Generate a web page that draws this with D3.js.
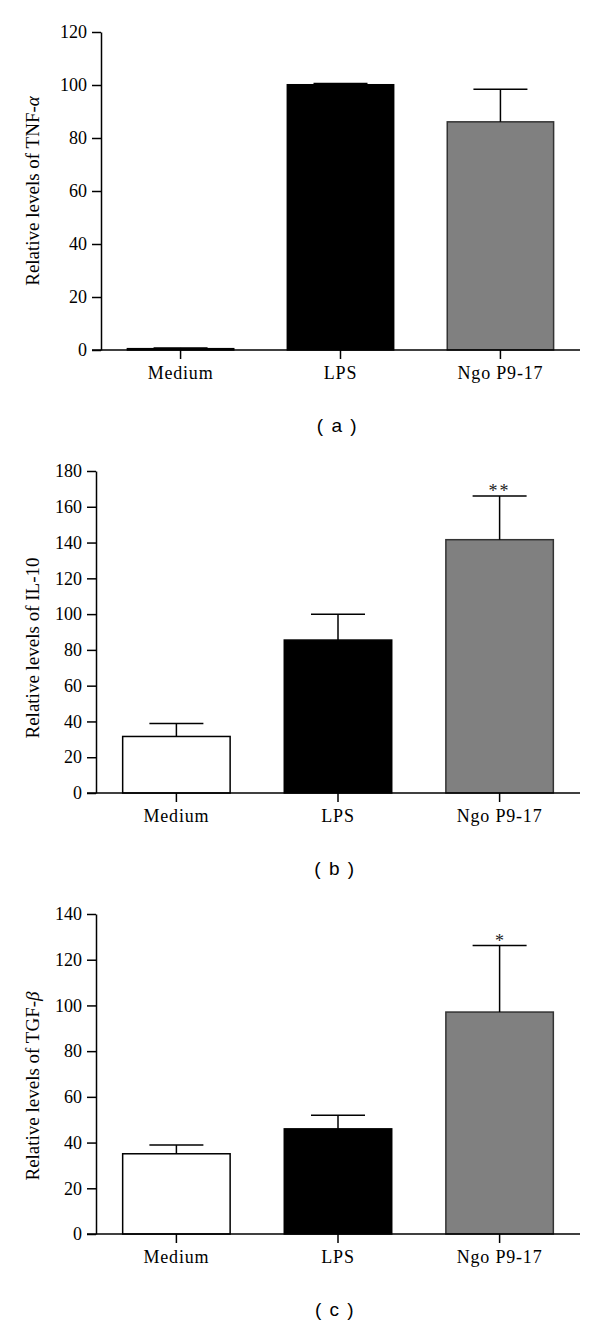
<!DOCTYPE html>
<html>
<head>
<meta charset="utf-8">
<script src="https://cdn.jsdelivr.net/npm/d3@7"></script>
<style>
  html, body { margin: 0; padding: 0; background: #fff; }
  svg { display: block; }
</style>
</head>
<body>
<svg id="chart" width="600" height="1324"></svg>
<script>
// ---------- data ----------
const categories = ["Medium", "LPS", "Ngo P9-17"];

const tnfValues = [0.5, 100.1, 86.1];
const tnfErrors = [0.3, 0.5, 12.3];
const tnfTicks = [0, 20, 40, 60, 80, 100, 120];
const tnfStars = ["", "", ""];

const il10Values = [31.6, 85.5, 141.6];
const il10Errors = [7.3, 14.4, 24.4];
const il10Ticks = [0, 20, 40, 60, 80, 100, 120, 140, 160, 180];
const il10Stars = ["", "", "**"];

const tgfValues = [35.1, 46.0, 97.1];
const tgfErrors = [3.8, 6.0, 29.1];
const tgfTicks = [0, 20, 40, 60, 80, 100, 120, 140];
const tgfStars = ["", "", "*"];

const titles = ["Relative levels of TNF-", "Relative levels of IL-10", "Relative levels of TGF-"];
const greek = ["α", "", "β"];
const captions = ["( a )", "( b )", "( c )"];

// ---------- layout ----------
const fills = ["#ffffff", "#000000", "#808080"];
const strokes = ["#000000", "#000000", "#333333"];

const panels = [
  { values: tnfValues, errors: tnfErrors, ticks: tnfTicks, stars: tnfStars,
    x0: 101, x1: 580, yTop: 32, yBottom: 350, titleY: 191, titleX: 32 },
  { values: il10Values, errors: il10Errors, ticks: il10Ticks, stars: il10Stars,
    x0: 96, x1: 580, yTop: 471, yBottom: 793, titleY: 648, titleX: 32 },
  { values: tgfValues, errors: tgfErrors, ticks: tgfTicks, stars: tgfStars,
    x0: 96, x1: 580, yTop: 914, yBottom: 1234, titleY: 1086, titleX: 32 }
];

const svg = d3.select("#chart");
const serif = "'Liberation Serif', 'Times New Roman', serif";
const sans = "'Liberation Sans', Arial, sans-serif";

panels.forEach((p, i) => {
  const g = svg.append("g");
  const x = d3.scaleBand().domain(categories).range([p.x0, p.x1])
    .paddingInner(0.335).paddingOuter(0.165);
  const y = d3.scaleLinear().domain([0, d3.max(p.ticks)]).range([p.yBottom, p.yTop]);

  // bars
  g.selectAll("rect.bar").data(categories).enter().append("rect")
    .attr("class", "bar")
    .attr("x", d => x(d))
    .attr("width", x.bandwidth())
    .attr("y", (d, j) => y(p.values[j]))
    .attr("height", (d, j) => y(0) - y(p.values[j]))
    .attr("fill", (d, j) => fills[j])
    .attr("stroke", (d, j) => strokes[j])
    .attr("stroke-width", 1.5);

  // error bars (upper only)
  const capHalf = 27;
  categories.forEach((c, j) => {
    const cx = x(c) + x.bandwidth() / 2;
    const yv = y(p.values[j]);
    const ye = y(p.values[j] + p.errors[j]);
    g.append("line").attr("x1", cx).attr("x2", cx).attr("y1", yv).attr("y2", ye)
      .attr("stroke", "#000").attr("stroke-width", 1.5);
    g.append("line").attr("x1", cx - capHalf).attr("x2", cx + capHalf).attr("y1", ye).attr("y2", ye)
      .attr("stroke", "#000").attr("stroke-width", 1.5);
    if (p.stars[j]) {
      g.append("text").attr("x", cx).attr("y", ye + 1)
        .attr("text-anchor", "middle")
        .attr("font-family", serif).attr("font-size", 18)
        .attr("letter-spacing", p.stars[j].length > 1 ? 2 : 0)
        .attr("fill", "#222")
        .text(p.stars[j]);
    }
  });

  // y axis
  const yAxis = d3.axisLeft(y).tickValues(p.ticks).tickSize(9).tickSizeOuter(0).tickPadding(5);
  const ya = g.append("g").attr("transform", `translate(${p.x0},0)`).call(yAxis);
  ya.select(".domain").attr("stroke", "#000").attr("stroke-width", 1.5);
  ya.selectAll(".tick line").attr("stroke", "#000").attr("stroke-width", 1.5);
  ya.selectAll(".tick text").attr("font-family", serif).attr("font-size", 18).attr("fill", "#000");

  // x axis
  const xAxis = d3.axisBottom(x).tickSize(9).tickSizeOuter(0).tickPadding(7);
  const xa = g.append("g").attr("transform", `translate(0,${p.yBottom})`).call(xAxis);
  xa.select(".domain").attr("stroke", "#000").attr("stroke-width", 1.5)
    .attr("d", `M${p.x0 - 9},0H${p.x1}`);
  xa.selectAll(".tick line").attr("stroke", "#000").attr("stroke-width", 1.5);
  xa.selectAll(".tick text").attr("font-family", serif).attr("font-size", 18)
    .attr("letter-spacing", 0.8).attr("fill", "#000");

  // y title
  const t = g.append("text")
    .attr("transform", `translate(${p.titleX},${p.titleY}) rotate(-90)`)
    .attr("text-anchor", "middle")
    .attr("dominant-baseline", "central")
    .attr("font-family", serif).attr("font-size", 19).attr("fill", "#000");
  t.append("tspan").text(titles[i]);
  if (greek[i]) t.append("tspan").attr("font-style", "italic").text(greek[i]);

  // caption
  g.append("text")
    .attr("x", (p.x0 + p.x1) / 2 - 3)
    .attr("y", p.yBottom + 82)
    .attr("text-anchor", "middle")
    .attr("font-family", sans).attr("font-size", 19)
    .attr("letter-spacing", 1.5)
    .attr("fill", "#000")
    .text(captions[i]);
});
</script>
</body>
</html>
